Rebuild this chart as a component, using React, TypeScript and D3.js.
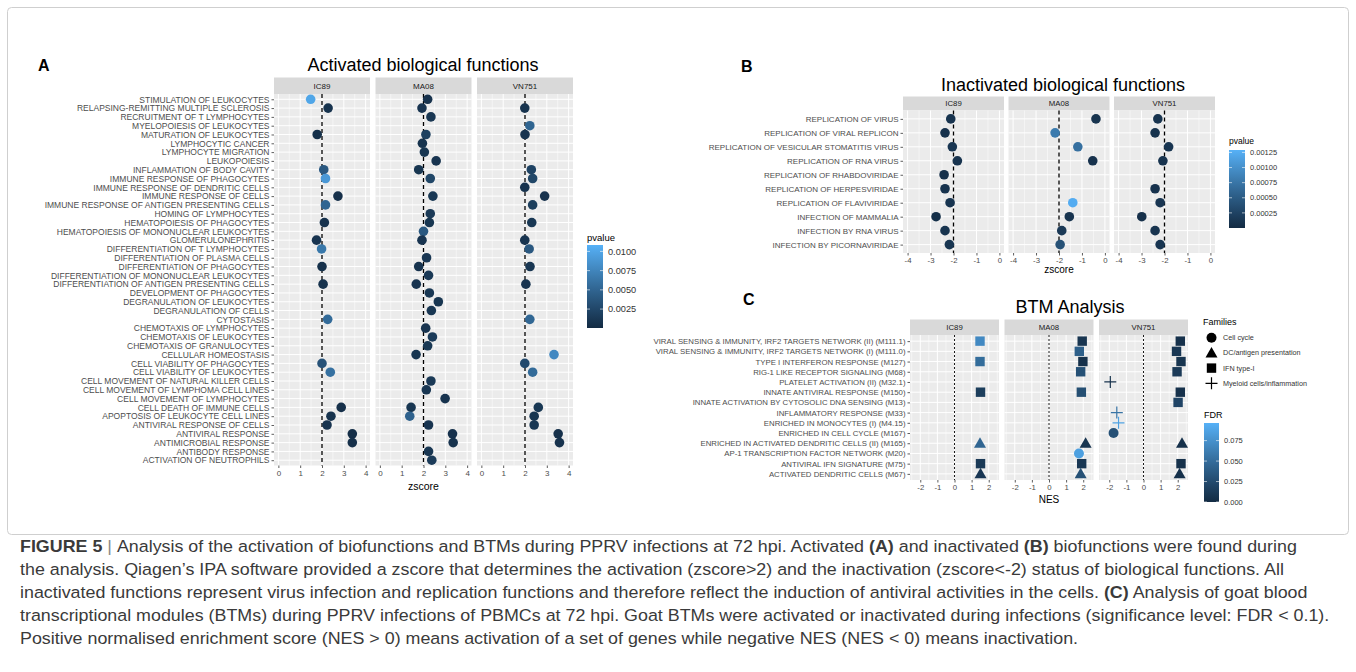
import React, { useEffect, useRef } from "react";
import * as d3 from "d3";

const W = 1356;
const H = 672;
const FONT = "'Liberation Sans', Arial, Helvetica, sans-serif";
const CAP_FONT = "'Liberation Sans Narrow', 'Arial Narrow', 'Liberation Sans', Arial, sans-serif";
const LOW = "#132B43";
const HIGH = "#56B1F7";
const _ = null;

const strains = ["IC89", "MA08", "VN751"];

// ---- Panel A: activated biological functions ----
const actTerms = [
  "STIMULATION OF LEUKOCYTES",
  "RELAPSING-REMITTING MULTIPLE SCLEROSIS",
  "RECRUITMENT OF T LYMPHOCYTES",
  "MYELOPOIESIS OF LEUKOCYTES",
  "MATURATION OF LEUKOCYTES",
  "LYMPHOCYTIC CANCER",
  "LYMPHOCYTE MIGRATION",
  "LEUKOPOIESIS",
  "INFLAMMATION OF BODY CAVITY",
  "IMMUNE RESPONSE OF PHAGOCYTES",
  "IMMUNE RESPONSE OF DENDRITIC CELLS",
  "IMMUNE RESPONSE OF CELLS",
  "IMMUNE RESPONSE OF ANTIGEN PRESENTING CELLS",
  "HOMING OF LYMPHOCYTES",
  "HEMATOPOIESIS OF PHAGOCYTES",
  "HEMATOPOIESIS OF MONONUCLEAR LEUKOCYTES",
  "GLOMERULONEPHRITIS",
  "DIFFERENTIATION OF T LYMPHOCYTES",
  "DIFFERENTIATION OF PLASMA CELLS",
  "DIFFERENTIATION OF PHAGOCYTES",
  "DIFFERENTIATION OF MONONUCLEAR LEUKOCYTES",
  "DIFFERENTIATION OF ANTIGEN PRESENTING CELLS",
  "DEVELOPMENT OF PHAGOCYTES",
  "DEGRANULATION OF LEUKOCYTES",
  "DEGRANULATION OF CELLS",
  "CYTOSTASIS",
  "CHEMOTAXIS OF LYMPHOCYTES",
  "CHEMOTAXIS OF LEUKOCYTES",
  "CHEMOTAXIS OF GRANULOCYTES",
  "CELLULAR HOMEOSTASIS",
  "CELL VIABILITY OF PHAGOCYTES",
  "CELL VIABILITY OF LEUKOCYTES",
  "CELL MOVEMENT OF NATURAL KILLER CELLS",
  "CELL MOVEMENT OF LYMPHOMA CELL LINES",
  "CELL MOVEMENT OF LYMPHOCYTES",
  "CELL DEATH OF IMMUNE CELLS",
  "APOPTOSIS OF LEUKOCYTE CELL LINES",
  "ANTIVIRAL RESPONSE OF CELLS",
  "ANTIVIRAL RESPONSE",
  "ANTIMICROBIAL RESPONSE",
  "ANTIBODY RESPONSE",
  "ACTIVATION OF NEUTROPHILS",
];
// zscore per strain (null = not significant)
const actZ_IC89 = [1.48, 2.28, _, _, 1.78, _, _, _, 2.08, 2.16, _, 2.73, 2.16, _, 2.11, _, 1.75, 1.98, _, 2.0, _, 2.05, _, _, _, 2.26, _, _, _, _, 2.0, 2.38, _, _, _, 2.88, 2.41, 2.23, 3.39, 3.39, _, _];
const actZ_MA08 = [2.19, 1.93, 2.34, _, 2.11, 1.95, 2.04, 2.58, 1.78, 2.31, _, 2.43, _, 2.31, 2.27, 2.0, 1.93, _, 2.14, 1.78, 2.23, 1.67, 2.27, 2.68, 2.36, _, 2.1, 2.41, 2.19, 1.66, _, _, 2.34, 2.13, 2.99, 1.43, 1.37, 2.23, 3.33, 3.36, 2.23, 2.38];
const actZ_VN751 = [_, 1.99, _, 2.22, 2.0, _, _, _, 2.29, 2.35, 1.99, 2.9, 2.35, _, 2.31, _, 1.99, 2.19, _, 2.23, _, 2.04, _, _, _, 2.22, _, _, _, 3.33, 1.99, 2.35, _, _, _, 2.61, 2.42, 2.42, 3.52, 3.58, _, _];
// pvalue per strain
const actP_IC89 = [0.01, 0.0008, _, _, 0.0006, _, _, _, 0.004, 0.009, _, 0.0005, 0.005, _, 0.0007, _, 0.0009, 0.0065, _, 0.0006, _, 0.0008, _, _, _, 0.0055, _, _, _, _, 0.0035, 0.006, _, _, _, 0.0005, 0.0008, 0.0009, 0.0004, 0.0005, _, _];
const actP_MA08 = [0.0007, 0.0009, 0.0011, _, 0.002, 0.0008, 0.001, 0.0009, 0.001, 0.0025, _, 0.0012, _, 0.0014, 0.001, 0.004, 0.0009, _, 0.0011, 0.0008, 0.0013, 0.0009, 0.0012, 0.001, 0.0011, _, 0.0009, 0.0015, 0.0012, 0.001, _, _, 0.0013, 0.0011, 0.0008, 0.001, 0.0048, 0.0009, 0.0007, 0.0008, 0.0011, 0.0016];
const actP_VN751 = [_, 0.0008, _, 0.005, 0.0009, _, _, _, 0.0022, 0.0025, 0.0008, 0.0007, 0.0018, _, 0.0012, _, 0.0009, 0.004, _, 0.0011, _, 0.0009, _, _, _, 0.0052, _, _, _, 0.0078, 0.0028, 0.0055, _, _, _, 0.0012, 0.001, 0.0012, 0.0006, 0.0007, _, _];
const actTicks = [0, 1, 2, 3, 4];
const actPTicks = [0.0025, 0.005, 0.0075, 0.01];

// ---- Panel B: inactivated biological functions ----
const inactTerms = [
  "REPLICATION OF VIRUS",
  "REPLICATION OF VIRAL REPLICON",
  "REPLICATION OF VESICULAR STOMATITIS VIRUS",
  "REPLICATION OF RNA VIRUS",
  "REPLICATION OF RHABDOVIRIDAE",
  "REPLICATION OF HERPESVIRIDAE",
  "REPLICATION OF FLAVIVIRIDAE",
  "INFECTION OF MAMMALIA",
  "INFECTION BY RNA VIRUS",
  "INFECTION BY PICORNAVIRIDAE",
];
const inactZ_IC89 = [-2.12, -2.37, -2.05, -1.83, -2.41, -2.37, -2.15, -2.76, -2.37, -2.18];
const inactZ_MA08 = [-0.39, -2.17, -1.18, -0.53, _, _, -1.4, -1.55, -1.88, -1.95];
const inactZ_VN751 = [-2.29, -2.41, -1.82, -2.07, _, -2.41, -2.19, -2.99, -2.41, -2.19];
const inactP_IC89 = [0.0001, 0.00008, 0.00012, 0.0001, 0.00006, 0.00009, 0.00011, 0.00005, 0.0001, 0.00012];
const inactP_MA08 = [0.0001, 0.0008, 0.0007, 0.00008, _, _, 0.00125, 0.0001, 0.00015, 0.0004];
const inactP_VN751 = [0.0001, 0.00009, 0.00011, 0.0001, _, 0.00008, 0.00012, 0.00006, 0.0001, 0.00011];
const inactTicks = [-4, -3, -2, -1, 0];
const inactPTicks = [0.00025, 0.0005, 0.00075, 0.001, 0.00125];

// ---- Panel C: BTM analysis ----
const btmTerms = [
  "VIRAL SENSING & IMMUNITY,  IRF2 TARGETS NETWORK (II) (M111.1)",
  "VIRAL SENSING & IMMUNITY,  IRF2 TARGETS NETWORK (I) (M111.0)",
  "TYPE I INTERFERON RESPONSE (M127)",
  "RIG-1 LIKE RECEPTOR SIGNALING (M68)",
  "PLATELET ACTIVATION (II) (M32.1)",
  "INNATE ANTIVIRAL RESPONSE (M150)",
  "INNATE ACTIVATION BY CYTOSOLIC DNA SENSING (M13)",
  "INFLAMMATORY RESPONSE (M33)",
  "ENRICHED IN MONOCYTES (I) (M4.15)",
  "ENRICHED IN CELL CYCLE (M167)",
  "ENRICHED IN ACTIVATED DENDRITIC CELLS (II) (M165)",
  "AP-1 TRANSCRIPTION FACTOR NETWORK (M20)",
  "ANTIVIRAL IFN SIGNATURE (M75)",
  "ACTIVATED DENDRITIC CELLS (M67)",
];
const families = ["Cell cycle", "DC/antigen presentation", "IFN type-I", "Myeloid cells/inflammation"];
const btmFamily = [
  "IFN type-I", "IFN type-I", "IFN type-I", "IFN type-I", "Myeloid cells/inflammation", "IFN type-I", "IFN type-I",
  "Myeloid cells/inflammation", "Myeloid cells/inflammation", "Cell cycle", "DC/antigen presentation", "Cell cycle",
  "IFN type-I", "DC/antigen presentation",
];
const btmNES_IC89 = [1.49, _, 1.49, _, _, 1.52, _, _, _, _, 1.49, _, 1.52, 1.52];
const btmNES_MA08 = [1.94, 1.77, 1.98, 1.85, _, 1.89, _, _, _, _, 2.14, 1.75, 1.91, 1.85];
const btmNES_VN751 = [2.15, 1.93, 2.19, 1.96, -1.94, 2.15, 2.02, -1.56, -1.46, -1.75, 2.25, _, 2.19, 2.11];
const btmFDR_IC89 = [0.07, _, 0.05, _, _, 0.015, _, _, _, _, 0.045, _, 0.012, 0.01];
const btmFDR_MA08 = [0.008, 0.04, 0.005, 0.03, _, 0.028, _, _, _, _, 0.008, 0.085, 0.01, 0.03];
const btmFDR_VN751 = [0.005, 0.01, 0.008, 0.012, 0.005, 0.005, 0.02, 0.055, 0.085, 0.03, 0.005, _, 0.005, 0.005];
const btmTicks = [-2, -1, 0, 1, 2];
const fdrTicks = [0, 0.025, 0.05, 0.075];

// ---- caption ----
const captionLines: [string, boolean][][] = [
  [["FIGURE 5", true], [" | ", false], ["Analysis of the activation of biofunctions and BTMs during PPRV infections at 72 hpi. Activated ", false], ["(A)", true], [" and inactivated ", false], ["(B)", true], [" biofunctions were found during", false]],
  [["the analysis. Qiagen\u2019s IPA software provided a zscore that determines the activation (zscore>2) and the inactivation (zscore<-2) status of biological functions. All", false]],
  [["inactivated functions represent virus infection and replication functions and therefore reflect the induction of antiviral activities in the cells. ", false], ["(C)", true], [" Analysis of goat blood", false]],
  [["transcriptional modules (BTMs) during PPRV infections of PBMCs at 72 hpi. Goat BTMs were activated or inactivated during infections (significance level: FDR < 0.1).", false]],
  [["Positive normalised enrichment score (NES > 0) means activation of a set of genes while negative NES (NES < 0) means inactivation.", false]],
];

type Sel = d3.Selection<any, any, any, any>;

function drawShape(g: Sel, shape: string, cx: number, cy: number, fill: string) {
  if (shape === "Cell cycle") {
    g.append("circle").attr("cx", cx).attr("cy", cy).attr("r", 5).attr("fill", fill);
  } else if (shape === "DC/antigen presentation") {
    const s = 6;
    g.append("path")
      .attr("d", `M${cx},${cy - s}L${cx + s},${cy + s * 0.75}L${cx - s},${cy + s * 0.75}Z`)
      .attr("fill", fill);
  } else if (shape === "IFN type-I") {
    g.append("rect").attr("x", cx - 4.7).attr("y", cy - 4.7).attr("width", 9.4).attr("height", 9.4).attr("fill", fill);
  } else {
    g.append("path")
      .attr("d", `M${cx - 6},${cy}H${cx + 6}M${cx},${cy - 6}V${cy + 6}`)
      .attr("stroke", fill)
      .attr("stroke-width", 1.2)
      .attr("fill", "none");
  }
}

function styleAxis(a: Sel, size: number) {
  a.select(".domain").remove();
  a.selectAll(".tick line").attr("stroke", "#333333").attr("stroke-width", 0.8);
  a.selectAll(".tick text").attr("fill", "#4D4D4D").attr("font-size", size).attr("font-family", FONT);
}

type FacetCfg = {
  left: number;
  width: number;
  gap: number;
  stripTop: number;
  plotTop: number;
  plotBottom: number;
  xDomain: [number, number];
  xTicks: number[];
  minor: number[];
  terms: string[];
  labelSize: number;
  tickSize: number;
  stripSize: number;
  refX: number;
  refDash: string;
  refWidth: number;
  xs: (number | null)[][];
  cs: (number | null)[][];
  color: (v: number) => string;
  shapes?: string[];
  xTitle: string;
  xTitleY: number;
  xTitleSize: number;
};

function drawFacets(svg: Sel, cfg: FacetCfg) {
  const y = d3.scalePoint<string>().domain(cfg.terms).range([cfg.plotTop, cfg.plotBottom]).padding(0.6);
  strains.forEach((s, i) => {
    const x0 = cfg.left + i * (cfg.width + cfg.gap);
    const x = d3.scaleLinear().domain(cfg.xDomain).range([x0, x0 + cfg.width]);
    const g = svg.append("g");
    g.append("rect")
      .attr("x", x0)
      .attr("y", cfg.stripTop)
      .attr("width", cfg.width)
      .attr("height", cfg.plotTop - cfg.stripTop)
      .attr("fill", "#D9D9D9");
    g.append("text")
      .attr("x", x0 + cfg.width / 2)
      .attr("y", (cfg.stripTop + cfg.plotTop) / 2)
      .attr("dy", "0.35em")
      .attr("text-anchor", "middle")
      .attr("font-size", cfg.stripSize)
      .attr("font-family", FONT)
      .attr("fill", "#1A1A1A")
      .text(s);
    g.append("rect")
      .attr("x", x0)
      .attr("y", cfg.plotTop)
      .attr("width", cfg.width)
      .attr("height", cfg.plotBottom - cfg.plotTop)
      .attr("fill", "#EBEBEB");
    cfg.minor.forEach((m) => {
      g.append("line")
        .attr("x1", x(m)).attr("x2", x(m))
        .attr("y1", cfg.plotTop).attr("y2", cfg.plotBottom)
        .attr("stroke", "#fff").attr("stroke-width", 0.5);
    });
    cfg.xTicks.forEach((m) => {
      g.append("line")
        .attr("x1", x(m)).attr("x2", x(m))
        .attr("y1", cfg.plotTop).attr("y2", cfg.plotBottom)
        .attr("stroke", "#fff").attr("stroke-width", 1);
    });
    cfg.terms.forEach((t) => {
      g.append("line")
        .attr("x1", x0).attr("x2", x0 + cfg.width)
        .attr("y1", y(t)!).attr("y2", y(t)!)
        .attr("stroke", "#fff").attr("stroke-width", 1);
    });
    g.append("line")
      .attr("x1", x(cfg.refX)).attr("x2", x(cfg.refX))
      .attr("y1", cfg.plotTop).attr("y2", cfg.plotBottom)
      .attr("stroke", "#000")
      .attr("stroke-width", cfg.refWidth)
      .attr("stroke-dasharray", cfg.refDash);
    const xv = cfg.xs[i];
    const cv = cfg.cs[i];
    cfg.terms.forEach((t, k) => {
      const v = xv[k];
      const c = cv[k];
      if (v == null || c == null) return;
      const col = cfg.color(c);
      if (cfg.shapes) drawShape(g, cfg.shapes[k], x(v), y(t)!, col);
      else g.append("circle").attr("cx", x(v)).attr("cy", y(t)!).attr("r", 4.8).attr("fill", col);
    });
    const ax = g
      .append("g")
      .attr("transform", `translate(0,${cfg.plotBottom})`)
      .call(d3.axisBottom(x).tickValues(cfg.xTicks).tickSize(2.5).tickPadding(2).tickFormat((d) => String(d)) as any);
    styleAxis(ax, cfg.tickSize);
  });
  const ay = svg
    .append("g")
    .attr("transform", `translate(${cfg.left},0)`)
    .call(d3.axisLeft(y).tickSize(2.5).tickPadding(2) as any);
  styleAxis(ay, cfg.labelSize);
  const totalW = 3 * cfg.width + 2 * cfg.gap;
  svg.append("text")
    .attr("x", cfg.left + totalW / 2)
    .attr("y", cfg.xTitleY)
    .attr("text-anchor", "middle")
    .attr("font-size", cfg.xTitleSize)
    .attr("font-family", FONT)
    .attr("fill", "#000")
    .text(cfg.xTitle);
}

function drawColorbar(
  svg: Sel, id: string, x: number, y: number, w: number, h: number,
  domain: [number, number], ticks: number[], fmt: (v: number) => string,
  title: string, titleY: number, titleSize: number, labelSize: number,
) {
  const interp = d3.interpolateLab(LOW, HIGH);
  const grad = svg.append("defs").append("linearGradient").attr("id", id)
    .attr("x1", 0).attr("y1", 1).attr("x2", 0).attr("y2", 0);
  d3.range(0, 1.0001, 0.1).forEach((t) => {
    grad.append("stop").attr("offset", t).attr("stop-color", interp(t));
  });
  svg.append("text").attr("x", x).attr("y", titleY).attr("font-size", titleSize)
    .attr("font-family", FONT).attr("fill", "#000").text(title);
  svg.append("rect").attr("x", x).attr("y", y).attr("width", w).attr("height", h).attr("fill", `url(#${id})`);
  const s = d3.scaleLinear().domain(domain).range([y + h, y]);
  ticks.forEach((t) => {
    const ty = s(t);
    svg.append("line").attr("x1", x).attr("x2", x + 3).attr("y1", ty).attr("y2", ty).attr("stroke", "#fff").attr("stroke-width", 0.6);
    svg.append("line").attr("x1", x + w - 3).attr("x2", x + w).attr("y1", ty).attr("y2", ty).attr("stroke", "#fff").attr("stroke-width", 0.6);
    svg.append("text").attr("x", x + w + 5).attr("y", ty).attr("dy", "0.35em")
      .attr("font-size", labelSize).attr("font-family", FONT).attr("fill", "#333").text(fmt(t));
  });
}

export default function App() {
  const ref = useRef<SVGSVGElement>(null);

  useEffect(() => {
    const svg = d3.select(ref.current);
    svg.selectAll("*").remove();

    svg.append("rect").attr("x", 0).attr("y", 0).attr("width", W).attr("height", H).attr("fill", "#fff");
    svg.append("rect").attr("x", 7.5).attr("y", 7.5).attr("width", 1341).attr("height", 527).attr("rx", 4)
      .attr("fill", "none").attr("stroke", "#cfcfcf");

    const letter = (t: string, x: number, y: number) =>
      svg.append("text").attr("x", x).attr("y", y).attr("font-size", 16).attr("font-weight", "bold")
        .attr("font-family", FONT).attr("fill", "#000").text(t);
    const title = (t: string, x: number, y: number) =>
      svg.append("text").attr("x", x).attr("y", y).attr("text-anchor", "middle").attr("font-size", 18)
        .attr("font-family", FONT).attr("fill", "#000").text(t);

    // Panel A
    const pA = d3.scaleSequential(d3.interpolateLab(LOW, HIGH)).domain([0.00004, 0.01083]);
    letter("A", 38, 71);
    title("Activated biological functions", 423, 71);
    drawFacets(svg, {
      left: 274, width: 96, gap: 5.5, stripTop: 77.5, plotTop: 94, plotBottom: 465.5,
      xDomain: [-0.2, 4.2], xTicks: actTicks, minor: [0.5, 1.5, 2.5, 3.5],
      terms: actTerms, labelSize: 8.5, tickSize: 8, stripSize: 8,
      refX: 2, refDash: "4,3", refWidth: 1.3,
      xs: [actZ_IC89, actZ_MA08, actZ_VN751], cs: [actP_IC89, actP_MA08, actP_VN751],
      color: pA, xTitle: "zscore", xTitleY: 490, xTitleSize: 10.5,
    });
    drawColorbar(svg, "gA", 587, 245, 16, 83, [0.00004, 0.01083], actPTicks, d3.format(".4f"),
      "pvalue", 241, 9.5, 9.2);

    // Panel B
    const pB = d3.scaleSequential(d3.interpolateLab(LOW, HIGH)).domain([0, 0.00129]);
    letter("B", 741, 72);
    title("Inactivated biological functions", 1063, 91);
    drawFacets(svg, {
      left: 903, width: 101, gap: 4.5, stripTop: 96.5, plotTop: 110.5, plotBottom: 253,
      xDomain: [-4.2, 0.2], xTicks: inactTicks, minor: [-3.5, -2.5, -1.5, -0.5],
      terms: inactTerms, labelSize: 8, tickSize: 7.8, stripSize: 7.8,
      refX: -2, refDash: "4,3", refWidth: 1.3,
      xs: [inactZ_IC89, inactZ_MA08, inactZ_VN751], cs: [inactP_IC89, inactP_MA08, inactP_VN751],
      color: pB, xTitle: "zscore", xTitleY: 273, xTitleSize: 10,
    });
    drawColorbar(svg, "gB", 1229, 150, 16, 78, [0, 0.00129], inactPTicks, d3.format(".5f"),
      "pvalue", 144, 8.5, 7.5);

    // Panel C
    const fC = d3.scaleSequential(d3.interpolateLab(LOW, HIGH)).domain([0, 0.0965]);
    letter("C", 743, 305);
    title("BTM Analysis", 1070, 312.5);
    drawFacets(svg, {
      left: 910, width: 89, gap: 5.5, stripTop: 319.5, plotTop: 335, plotBottom: 480,
      xDomain: [-2.6, 2.6], xTicks: btmTicks, minor: [-2.5, -1.5, -0.5, 0.5, 1.5, 2.5],
      terms: btmTerms, labelSize: 7.8, tickSize: 7.8, stripSize: 7.8,
      refX: 0, refDash: "2,2", refWidth: 0.9,
      xs: [btmNES_IC89, btmNES_MA08, btmNES_VN751], cs: [btmFDR_IC89, btmFDR_MA08, btmFDR_VN751],
      color: fC, shapes: btmFamily, xTitle: "NES", xTitleY: 503, xTitleSize: 10,
    });
    // Families legend
    svg.append("text").attr("x", 1203).attr("y", 325).attr("font-size", 9).attr("font-family", FONT)
      .attr("fill", "#000").text("Families");
    families.forEach((f, k) => {
      const fy = 337.7 + k * 15.2;
      drawShape(svg, f, 1211.5, fy, "#000");
      svg.append("text").attr("x", 1223).attr("y", fy).attr("dy", "0.35em").attr("font-size", 7.2)
        .attr("font-family", FONT).attr("fill", "#333").text(f);
    });
    drawColorbar(svg, "gC", 1204, 423, 15, 79, [0, 0.0965], fdrTicks, d3.format(".3f"),
      "FDR", 418, 9, 7.5);

    // Caption (condensed to fit the column width)
    const cap = svg.append("g").attr("font-family", CAP_FONT).attr("fill", "#3a3a3a");
    const nodes: SVGTextElement[] = [];
    captionLines.forEach((parts, li) => {
      const t = cap.append("text").attr("x", 0).attr("y", 552 + li * 23).attr("font-size", 16.5);
      parts.forEach(([txt, bold]) => {
        t.append("tspan")
          .attr("font-weight", bold ? "bold" : "normal")
          .attr("fill", txt === " | " ? "#888" : "#3a3a3a")
          .text(txt);
      });
      nodes.push(t.node() as SVGTextElement);
    });
    const wMax = d3.max(nodes, (n) => n.getComputedTextLength()) || 1;
    const sx = 1310 / wMax;
    cap.attr("transform", `translate(20,0) scale(${sx},1)`);
  }, []);

  return (
    <svg
      ref={ref}
      width={W}
      height={H}
      style={{ position: "absolute", left: 0, top: 0, display: "block" }}
    />
  );
}
